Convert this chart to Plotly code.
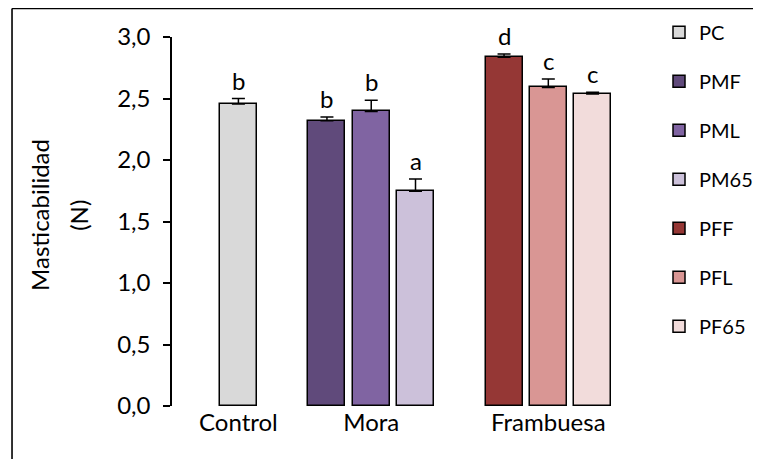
import plotly.graph_objects as go

groups = ["Control", "Mora", "Frambuesa"]
group_series = [["PC"], ["PMF", "PML", "PM65"], ["PFF", "PFL", "PF65"]]
values = {"PC": 2.455, "PMF": 2.32, "PML": 2.395, "PM65": 1.745,
          "PFF": 2.835, "PFL": 2.59, "PF65": 2.537}
errors = {"PC": 0.045, "PMF": 0.03, "PML": 0.09, "PM65": 0.10,
          "PFF": 0.027, "PFL": 0.068, "PF65": 0.013}
letters = {"PC": "b", "PMF": "b", "PML": "b", "PM65": "a",
           "PFF": "d", "PFL": "c", "PF65": "c"}
colors = {"PC": "#D9D9D9", "PMF": "#604A7B", "PML": "#8064A2", "PM65": "#CCC1DA",
          "PFF": "#953735", "PFL": "#D99694", "PF65": "#F2DCDB"}
y_title_lines = ["Masticabilidad", "(N)"]

FONT = "Lato"
FS = 24
LFS = 20

# slot positions: one empty slot between groups
slot = {}
group_center = []
pos = 0
for gi, ser in enumerate(group_series):
    start = pos
    for s in ser:
        slot[s] = pos
        pos += 1
    group_center.append((start + pos - 1) / 2)
    pos += 1

fig = go.Figure()
for gi, ser in enumerate(group_series):
    for s in ser:
        fig.add_trace(go.Bar(
            x=[slot[s]], y=[values[s]], name=s, width=0.835,
            marker=dict(color=colors[s], line=dict(color="black", width=1.5)),
            error_y=dict(type="data", array=[errors[s]], symmetric=False, arrayminus=[0],
                         color="black", thickness=1.5, width=6.5),
            legendgroup=s,
        ))
        fig.add_annotation(x=slot[s], y=values[s] + errors[s], text=letters[s],
                           showarrow=False, yanchor="bottom", yshift=2,
                           font=dict(family=FONT, size=FS, color="black"))

for txt, xp in zip(y_title_lines, [-0.271, -0.191]):
    fig.add_annotation(x=xp, y=0.518, xref="paper", yref="paper",
                       text=txt, textangle=-90, showarrow=False,
                       xanchor="center", yanchor="middle",
                       font=dict(family=FONT, size=FS, color="black"))

# outer frame (left and top edges visible)
fig.add_shape(type="line", xref="paper", yref="paper", x0=-0.3285, x1=1.3,
              y0=1.0772, y1=1.0772, line=dict(color="black", width=1.6))
fig.add_shape(type="line", xref="paper", yref="paper", x0=-0.3285, x1=-0.3285,
              y0=1.0772, y1=-0.3, line=dict(color="black", width=1.6))

fig.update_layout(
    width=753, height=451,
    margin=dict(l=164, r=102, t=29, b=53, autoexpand=False),
    paper_bgcolor="white", plot_bgcolor="white",
    separators=",.",
    font=dict(family=FONT, size=FS, color="black"),
    showlegend=True,
    legend=dict(x=1.0, y=1.066, xanchor="left", yanchor="top",
                traceorder="grouped", tracegroupgap=20, maxheight=1.0,
                font=dict(family=FONT, size=LFS, color="black"),
                bgcolor="rgba(0,0,0,0)"),
    xaxis=dict(range=[-1.5, pos - 1 + 1.5 - 1], tickmode="array",
               tickvals=group_center, ticktext=groups, showline=False,
               showgrid=False, zeroline=False, ticks="", ticklen=0,
               tickfont=dict(family=FONT, size=FS, color="black")),
    yaxis=dict(range=[0, 3], dtick=0.5, tickformat=".1f", showline=True,
               linecolor="black", linewidth=1.5, ticks="outside", ticklen=7,
               tickwidth=1.5, tickcolor="black", showgrid=False, zeroline=False,
               ticklabelstandoff=8,
               tickfont=dict(family=FONT, size=FS, color="black")),
    bargap=0,
)

fig.write_html("out.html")
